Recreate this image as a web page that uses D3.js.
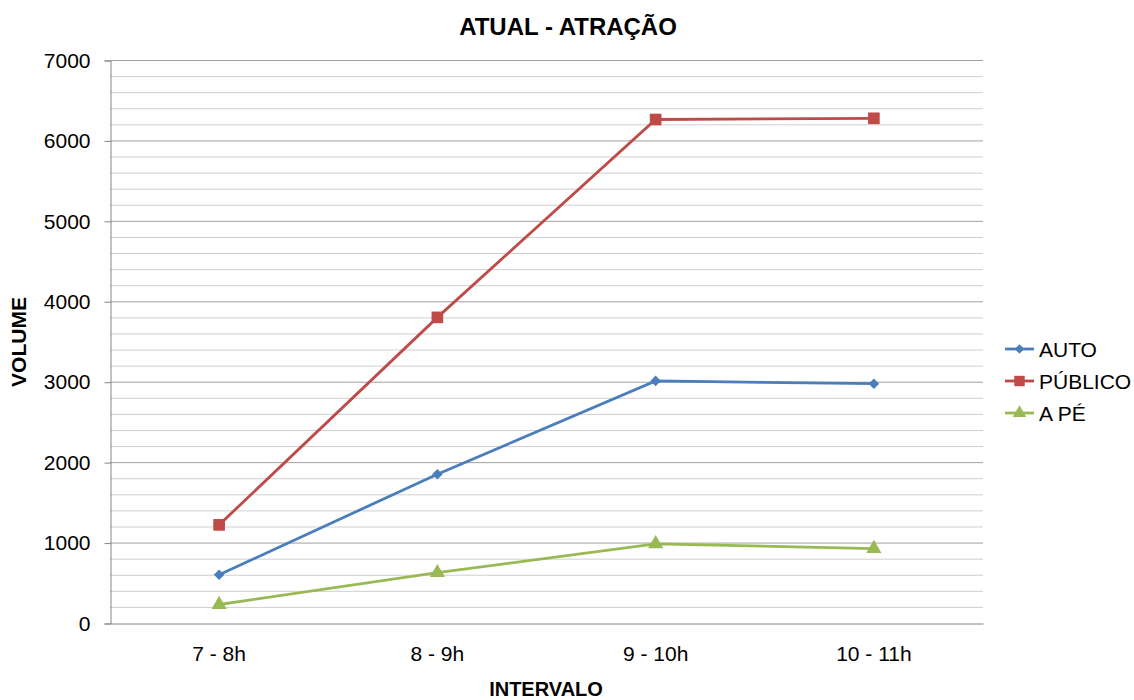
<!DOCTYPE html>
<html><head><meta charset="utf-8">
<script src="https://d3js.org/d3.v7.min.js"></script>
<style>body{margin:0;background:#fff}svg{display:block}text{font-family:"Liberation Sans",Arial,sans-serif;fill:#000}</style>
</head><body><svg id="c" width="1134" height="700"></svg>
<script>
const categories = ["7 - 8h","8 - 9h","9 - 10h","10 - 11h"];
const auto = [600, 1850, 3010, 2975];
const publico = [1220, 3800, 6260, 6275];
const ape = [230, 625, 985, 925];
const seriesNames = ["AUTO","PÚBLICO","A PÉ"];
const yTicks = [0,1000,2000,3000,4000,5000,6000,7000];
const minorTicks = d3.range(0, 7001, 200);

const colors = ["#4a7ebb","#be4b48","#98b954"];
const svg = d3.select("#c");
const L = 110, R = 983, T = 60, B = 623;
const x = d3.scaleBand().domain(categories).range([L, R]);
const y = d3.scaleLinear().domain([0,7000]).range([B, T]);

// gridlines
svg.append("g").selectAll("line").data(minorTicks.filter(v=>v%1000!==0)).join("line")
  .attr("x1", L).attr("x2", R).attr("y1", d=>y(d)+0.5).attr("y2", d=>y(d)+0.5)
  .attr("stroke", "#cfcfcf").attr("stroke-width", 1);
svg.append("g").selectAll("line").data(yTicks.filter(v=>v>0)).join("line")
  .attr("x1", L).attr("x2", R).attr("y1", d=>y(d)+0.5).attr("y2", d=>y(d)+0.5)
  .attr("stroke", "#a0a0a0").attr("stroke-width", 1);

// y axis
const yAxis = svg.append("g").attr("transform", `translate(${L+0.5},0.5)`)
  .call(d3.axisLeft(y).tickValues(yTicks).tickSize(6).tickPadding(14).tickFormat(d3.format("d")));
yAxis.select(".domain").attr("stroke", "#868686");
yAxis.selectAll(".tick line").attr("stroke", "#868686");
yAxis.selectAll(".tick text").attr("font-size", 21).attr("fill", "#000");

// x axis
const xAxis = svg.append("g").attr("transform", `translate(0,${B+0.5})`)
  .call(d3.axisBottom(x).tickSize(0).tickPadding(23));
xAxis.select(".domain").attr("stroke", "#868686");
xAxis.selectAll(".tick text").attr("font-size", 21).attr("fill", "#000");

const data = [auto, publico, ape];
const line = d3.line().x((d,i)=>x(categories[i])+x.bandwidth()/2).y(d=>y(d));
const symbols = [d3.symbolSquare, d3.symbolSquare, d3.symbolTriangle];
const symSizes = [56, 136, 100];
const rot = [45, 0, 0];

data.forEach((vals, s) => {
  svg.append("path").datum(vals).attr("d", line).attr("fill","none")
    .attr("stroke", colors[s]).attr("stroke-width", 2.8);
  svg.append("g").selectAll("path").data(vals).join("path")
    .attr("transform", (d,i)=>`translate(${x(categories[i])+x.bandwidth()/2},${y(d)}) rotate(${rot[s]})`)
    .attr("d", d3.symbol().type(symbols[s]).size(symSizes[s]))
    .attr("fill", colors[s]);
});

// legend
const lg = svg.append("g");
seriesNames.forEach((n, s) => {
  const yy = 349 + s*32;
  lg.append("line").attr("x1", 1005).attr("x2", 1034).attr("y1", yy).attr("y2", yy)
    .attr("stroke", colors[s]).attr("stroke-width", 2.8);
  lg.append("path").attr("transform", `translate(1019.5,${yy}) rotate(${rot[s]})`)
    .attr("d", d3.symbol().type(symbols[s]).size(symSizes[s]*0.8)).attr("fill", colors[s]);
  lg.append("text").attr("x", 1039).attr("y", yy).attr("dy", "0.36em")
    .attr("font-size", 21).text(n);
});

// titles
svg.append("text").attr("x", 568).attr("y", 35).attr("text-anchor","middle")
  .attr("font-size", 24).attr("font-weight","bold").text("ATUAL - ATRAÇÃO");
svg.append("text").attr("x", 546).attr("y", 696).attr("text-anchor","middle")
  .attr("font-size", 20).attr("font-weight","bold").text("INTERVALO");
svg.append("text").attr("transform","translate(26,342) rotate(-90)").attr("text-anchor","middle")
  .attr("font-size", 21).attr("font-weight","bold").text("VOLUME");
</script></body></html>
